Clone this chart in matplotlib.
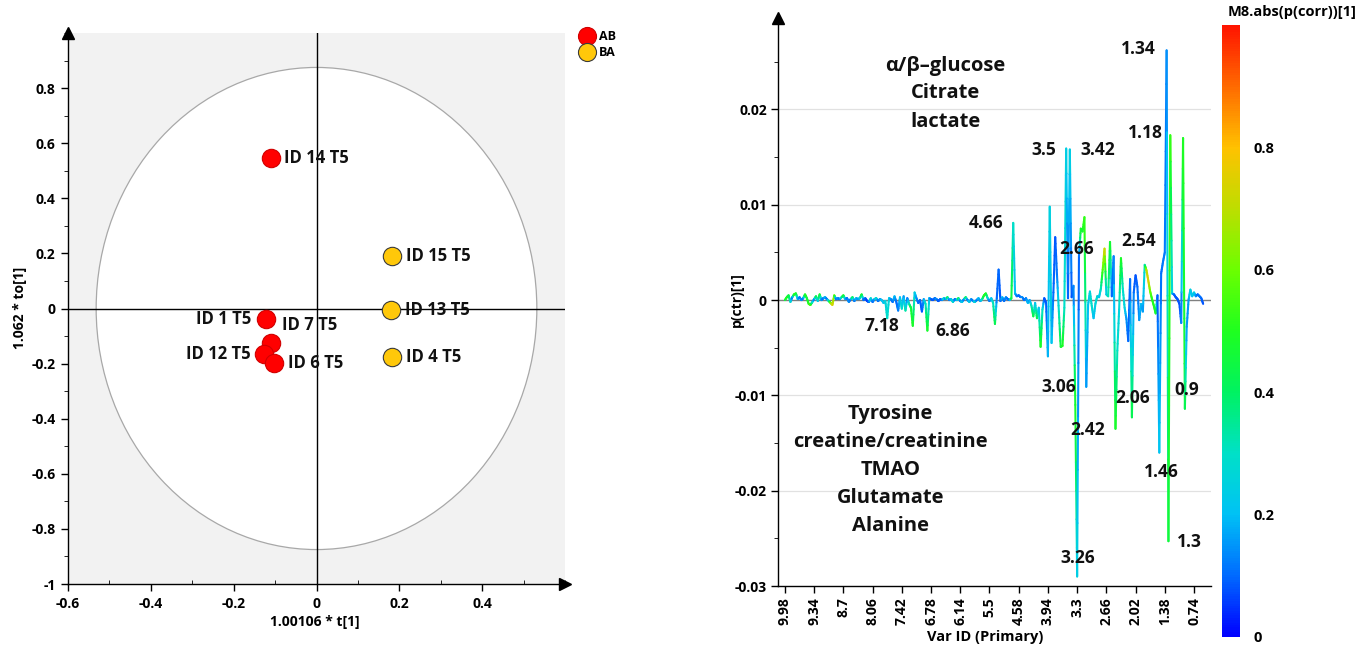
import numpy as np
import matplotlib
matplotlib.use('Agg')
import matplotlib.pyplot as plt
from matplotlib.patches import Ellipse
from matplotlib.collections import LineCollection
from matplotlib.colors import LinearSegmentedColormap, Normalize
from matplotlib.cm import ScalarMappable
from matplotlib.lines import Line2D
import matplotlib.ticker as mticker

plt.rcParams['font.family'] = ['Open Sans', 'DejaVu Sans']
plt.rcParams['font.weight'] = 'bold'
plt.rcParams['axes.unicode_minus'] = False

# ---------------- data: score plot ----------------
score_ids = ['ID 14 T5', 'ID 1 T5', 'ID 7 T5', 'ID 12 T5', 'ID 6 T5',
             'ID 15 T5', 'ID 13 T5', 'ID 4 T5']
score_group = ['AB', 'AB', 'AB', 'AB', 'AB', 'BA', 'BA', 'BA']
score_t = [-0.111, -0.121, -0.111, -0.126, -0.103, 0.183, 0.181, 0.183]
score_to = [0.545, -0.039, -0.124, -0.166, -0.199, 0.190, -0.004, -0.177]
groups = ['AB', 'BA']
x_ticks_left = [-0.6, -0.4, -0.2, 0, 0.2, 0.4]
x_ticklabels_left = ['-0.6', '-0.4', '-0.2', '0', '0.2', '0.4']
y_ticks_left = [-1, -0.8, -0.6, -0.4, -0.2, 0, 0.2, 0.4, 0.6, 0.8]
y_ticklabels_left = ['-1', '-0.8', '-0.6', '-0.4', '-0.2', '0', '0.2', '0.4', '0.6', '0.8']
ellipse_radius_t = 0.532
ellipse_radius_to = 0.875

# ---------------- data: loading line plot ----------------
p_ctr = [
    0.0000, 0.0003, 0.0005, -0.0002, 0.0003, 0.0006, 0.0007, 0.0001, 0.0003, 0.0000,
    0.0002, 0.0006, 0.0002, -0.0004, -0.0005, -0.0002, 0.0001, 0.0004, -0.0001, 0.0006,
    0.0000, 0.0002, 0.0003, 0.0001, -0.0001, -0.0003, -0.0005, 0.0005, 0.0001, 0.0002,
    0.0001, 0.0003, 0.0005, 0.0001, 0.0002, -0.0002, 0.0001, 0.0003, -0.0001, 0.0002,
    0.0001, 0.0002, 0.0006, 0.0000, 0.0002, -0.0001, -0.0002, 0.0002, -0.0002, 0.0001,
    0.0002, -0.0001, 0.0001, 0.0000, -0.0003, -0.0001, -0.0019, 0.0002, 0.0001, -0.0002,
    0.0004, -0.0002, -0.0011, 0.0003, -0.0009, 0.0004, -0.0011, 0.0002, -0.0004, -0.0008,
    -0.0027, 0.0008, 0.0002, -0.0003, 0.0000, -0.0012, 0.0001, -0.0004, -0.0032, 0.0002,
    0.0001, 0.0000, 0.0002, 0.0001, -0.0001, 0.0001, 0.0000, 0.0002, 0.0001, 0.0003,
    0.0000, 0.0001, -0.0002, 0.0001, 0.0000, 0.0002, -0.0001, -0.0002, 0.0001, 0.0003,
    0.0000, -0.0002, 0.0001, -0.0001, -0.0002, 0.0000, 0.0002, -0.0001, 0.0001, 0.0005,
    0.0007, 0.0002, -0.0001, 0.0002, -0.0003, -0.0025, 0.0002, 0.0032, -0.0001, 0.0003,
    -0.0001, 0.0003, 0.0001, 0.0000, 0.0002, 0.0081, 0.0007, 0.0004, 0.0005, 0.0003,
    0.0003, 0.0000, 0.0002, -0.0003, 0.0000, -0.0006, -0.0017, -0.0003, -0.0019, -0.0008,
    -0.0049, -0.0010, 0.0002, -0.0003, -0.0059, 0.0098, -0.0045, 0.0008, 0.0066, 0.0025,
    -0.0012, -0.0049, -0.0048, -0.0008, 0.0159, 0.0002, 0.0158, 0.0003, 0.0015, -0.0110,
    -0.0290, 0.0046, 0.0075, 0.0072, 0.0087, -0.0091, -0.0005, 0.0009, -0.0006, -0.0019,
    -0.0004, 0.0004, 0.0003, 0.0012, 0.0032, 0.0054, 0.0006, 0.0004, 0.0061, 0.0004,
    0.0046, -0.0135, -0.0053, -0.0010, 0.0044, 0.0012, -0.0008, -0.0020, -0.0043, 0.0022,
    -0.0123, 0.0008, 0.0026, 0.0014, -0.0021, -0.0004, -0.0012, 0.0037, 0.0031, 0.0020,
    0.0009, 0.0001, -0.0006, -0.0014, 0.0005, -0.0160, 0.0028, 0.0040, 0.0050, 0.0262,
    -0.0253, 0.0173, 0.0007, 0.0006, 0.0003, 0.0001, -0.0004, -0.0024, 0.0170, -0.0114,
    -0.0028, 0.0000, 0.0011, 0.0004, 0.0008, 0.0004, 0.0006, 0.0004, 0.0002, -0.0004,
]
p_corr = [
    0.45, 0.50, 0.45, 0.30, 0.10, 0.50, 0.50, 0.20, 0.10, 0.15,
    0.10, 0.50, 0.45, 0.50, 0.55, 0.30, 0.10, 0.45, 0.20, 0.50,
    0.15, 0.10, 0.20, 0.10, 0.30, 0.60, 0.75, 0.60, 0.10, 0.15,
    0.10, 0.30, 0.50, 0.20, 0.10, 0.15, 0.10, 0.45, 0.10, 0.20,
    0.15, 0.20, 0.50, 0.10, 0.10, 0.05, 0.10, 0.30, 0.10, 0.15,
    0.30, 0.10, 0.15, 0.20, 0.20, 0.25, 0.30, 0.25, 0.15, 0.10,
    0.20, 0.10, 0.12, 0.20, 0.30, 0.15, 0.35, 0.10, 0.30, 0.45,
    0.50, 0.25, 0.15, 0.10, 0.10, 0.08, 0.15, 0.30, 0.50, 0.20,
    0.10, 0.08, 0.10, 0.15, 0.08, 0.10, 0.10, 0.30, 0.10, 0.45,
    0.10, 0.20, 0.30, 0.10, 0.15, 0.45, 0.10, 0.25, 0.10, 0.45,
    0.10, 0.25, 0.15, 0.10, 0.30, 0.10, 0.20, 0.15, 0.30, 0.50,
    0.50, 0.30, 0.10, 0.20, 0.30, 0.45, 0.10, 0.10, 0.08, 0.20,
    0.10, 0.15, 0.10, 0.12, 0.45, 0.30, 0.20, 0.12, 0.10, 0.10,
    0.15, 0.10, 0.12, 0.20, 0.15, 0.30, 0.45, 0.20, 0.45, 0.20,
    0.50, 0.30, 0.08, 0.08, 0.18, 0.25, 0.22, 0.10, 0.08, 0.12,
    0.30, 0.45, 0.50, 0.30, 0.25, 0.08, 0.25, 0.08, 0.10, 0.50,
    0.25, 0.08, 0.50, 0.45, 0.55, 0.15, 0.20, 0.25, 0.30, 0.20,
    0.25, 0.30, 0.20, 0.30, 0.55, 0.75, 0.20, 0.30, 0.50, 0.10,
    0.10, 0.50, 0.30, 0.25, 0.50, 0.30, 0.25, 0.15, 0.10, 0.08,
    0.45, 0.10, 0.08, 0.10, 0.15, 0.20, 0.15, 0.30, 0.70, 0.75,
    0.60, 0.50, 0.50, 0.50, 0.08, 0.22, 0.10, 0.12, 0.12, 0.12,
    0.45, 0.55, 0.25, 0.10, 0.08, 0.08, 0.08, 0.10, 0.50, 0.45,
    0.15, 0.15, 0.25, 0.20, 0.25, 0.15, 0.10, 0.12, 0.10, 0.08,
]
var_tick_labels = ['9.98', '9.34', '8.7', '8.06', '7.42', '6.78', '6.14', '5.5',
                   '4.58', '3.94', '3.3', '2.66', '2.02', '1.38', '0.74']
y_ticks_right = [-0.03, -0.02, -0.01, 0, 0.01, 0.02]
y_ticklabels_right = ['-0.03', '-0.02', '-0.01', '0', '0.01', '0.02']
peak_labels = ['1.34', '1.18', '3.5', '3.42', '4.66', '2.66', '2.54', '7.18',
               '6.86', '3.06', '2.06', '0.9', '2.42', '1.46', '1.3', '3.26']
metab_up = ['\u03b1/\u03b2\u2013glucose', 'Citrate', 'lactate']
metab_down = ['Tyrosine', 'creatine/creatinine', 'TMAO', 'Glutamate', 'Alanine']
cbar_ticks = [0, 0.2, 0.4, 0.6, 0.8]
cbar_ticklabels = ['0', '0.2', '0.4', '0.6', '0.8']

# ---------------- layout / styles ----------------
W, H = 1364, 647
group_face = {'AB': '#ff0000', 'BA': '#ffc80a'}
group_edge = {'AB': '#d00000', 'BA': '#3a3a3a'}
label_offsets = [(10, 0, 'left'), (-11, 0, 'right'), (8, 13, 'left'), (-10, 0, 'right'),
                 (10, 0, 'left'), (10, 0, 'left'), (10, 0, 'left'), (10, 0, 'left')]
peak_label_pos = [(193.6, 0.0263), (197.1, 0.0175), (141.7, 0.0158), (171.2, 0.0157),
                  (109.9, 0.0081), (159.9, 0.0054), (193.6, 0.00615), (53.3, -0.0027),
                  (92.0, -0.0032), (149.7, -0.0091), (190.5, -0.0103), (220.0, -0.0094),
                  (165.8, -0.0136), (205.9, -0.0180), (221.7, -0.0254), (160.3, -0.0271)]
up_pos_x, up_pos_y = 88, [0.0246, 0.0217, 0.0187]
down_pos_x, down_pos_y = 57.8, [-0.0119, -0.0149, -0.0178, -0.0208, -0.0237]

cmap = LinearSegmentedColormap.from_list('simca', [
    (0.0, (0.0, 0.0, 1.0)), (0.1, (0.0, 0.42, 1.0)), (0.2, (0.0, 0.76, 0.96)),
    (0.3, (0.0, 0.88, 0.78)), (0.4, (0.0, 0.95, 0.38)), (0.5, (0.12, 1.0, 0.12)),
    (0.6, (0.42, 1.0, 0.0)), (0.7, (0.74, 0.87, 0.0)), (0.8, (1.0, 0.76, 0.0)),
    (0.9, (1.0, 0.42, 0.0)), (1.0, (1.0, 0.08, 0.0))])
norm = Normalize(0, 1)

fig = plt.figure(figsize=(W / 100, H / 100), dpi=100)

def fax(l, t, r, b):
    return fig.add_axes([l / W, 1 - b / H, (r - l) / W, (b - t) / H])

# ================= left: score plot =================
axL = fax(68, 33, 565, 584)
axL.set_xlim(-0.6, 0.6)
axL.set_ylim(-1, 1.0)
axL.set_facecolor('#f2f2f2')
axL.add_patch(Ellipse((0, 0), 2 * ellipse_radius_t, 2 * ellipse_radius_to,
                      facecolor='white', edgecolor='#a8a8a8', lw=0.9, zorder=1))
axL.axhline(0, color='black', lw=1.0, zorder=2)
axL.axvline(0, color='black', lw=1.0, zorder=2)
for s in ['top', 'right']:
    axL.spines[s].set_visible(False)
for s in ['left', 'bottom']:
    axL.spines[s].set_color('black')
    axL.spines[s].set_linewidth(1.0)
axL.plot(1, 0, marker='>', color='black', ms=8, transform=axL.transAxes, clip_on=False)
axL.plot(0, 1, marker='^', color='black', ms=8, transform=axL.transAxes, clip_on=False)
axL.set_xticks(x_ticks_left)
axL.set_xticklabels(x_ticklabels_left)
axL.set_yticks(y_ticks_left)
axL.set_yticklabels(y_ticklabels_left)
axL.xaxis.set_minor_locator(mticker.MultipleLocator(0.1))
axL.yaxis.set_minor_locator(mticker.MultipleLocator(0.1))
axL.tick_params(which='major', length=5, width=1, labelsize=10, pad=4)
axL.tick_params(axis='x', which='minor', length=3, direction='in')
axL.tick_params(axis='y', which='minor', length=3, direction='out')
for lab in axL.get_xticklabels() + axL.get_yticklabels():
    lab.set_fontweight('bold')

for i, name in enumerate(score_ids):
    g = score_group[i]
    axL.scatter(score_t[i], score_to[i], s=175, c=group_face[g],
                edgecolors=group_edge[g], linewidths=0.8, zorder=4)
    dx, dy, ha = label_offsets[i]
    axL.annotate(name, (score_t[i], score_to[i]), xytext=(dx, dy),
                 textcoords='offset points', ha=ha, va='center',
                 fontsize=12, fontweight='bold', color='#111111', zorder=5)

fig.text(315 / W, 1 - 622 / H, '1.00106 * t[1]', ha='center', va='center',
         fontsize=10, fontweight='bold')
fig.text(20 / W, 1 - 308 / H, '1.062 * to[1]', ha='center', va='center',
         rotation=90, fontsize=10, fontweight='bold')

handles = [Line2D([], [], marker='o', ls='', ms=13, markerfacecolor=group_face[g],
                  markeredgecolor=group_edge[g], markeredgewidth=0.8) for g in groups]
fig.legend(handles, groups, loc='upper left', bbox_to_anchor=(568 / W, 1 - 24 / H),
           frameon=False, handletextpad=0.0, labelspacing=0.25, borderpad=0,
           prop={'size': 9, 'weight': 'bold'})

# ================= right: loadings line plot =================
axR = fax(778, 18, 1211, 586)
n = len(p_ctr)
xpos = np.arange(n)
axR.set_xlim(-3.8, 233.3)
axR.set_ylim(-0.03, 0.0296)
for yv in [0.02, 0.01, -0.01, -0.02]:
    axR.axhline(yv, color='#e1e1e1', lw=0.9, zorder=1)
axR.axhline(0, color='#808080', lw=1.0, zorder=1)

yv = np.asarray(p_ctr)
cv = np.asarray(p_corr)
segs, cols = [], []
sub = 6
for i in range(n - 1):
    xs = np.linspace(xpos[i], xpos[i + 1], sub + 1)
    ys = np.linspace(yv[i], yv[i + 1], sub + 1)
    cs = np.linspace(cv[i], cv[i + 1], sub + 1)
    for k in range(sub):
        segs.append([(xs[k], ys[k]), (xs[k + 1], ys[k + 1])])
        cols.append(0.5 * (cs[k] + cs[k + 1]))
lc = LineCollection(segs, cmap=cmap, norm=norm, linewidths=1.5, zorder=3,
                    capstyle='round', joinstyle='round')
lc.set_array(np.asarray(cols))
axR.add_collection(lc)

for s in ['top', 'right']:
    axR.spines[s].set_visible(False)
for s in ['left', 'bottom']:
    axR.spines[s].set_color('black')
    axR.spines[s].set_linewidth(1.0)
axR.plot(0, 1, marker='^', color='black', ms=8, transform=axR.transAxes, clip_on=False)

axR.set_xticks(np.arange(len(var_tick_labels)) * 16)
axR.set_xticklabels(var_tick_labels, rotation=90)
axR.set_yticks(y_ticks_right)
axR.set_yticklabels(y_ticklabels_right)
axR.yaxis.set_minor_locator(mticker.MultipleLocator(0.005))
axR.tick_params(which='major', length=5, width=1, labelsize=10, pad=3)
axR.tick_params(axis='y', which='minor', length=3)
for lab in axR.get_xticklabels() + axR.get_yticklabels():
    lab.set_fontweight('bold')

for lab, (px, py) in zip(peak_labels, peak_label_pos):
    axR.text(px, py, lab, ha='center', va='center', fontsize=12.5,
             fontweight='bold', color='#111111', zorder=6)
for lab, py in zip(metab_up, up_pos_y):
    axR.text(up_pos_x, py, lab, ha='center', va='center', fontsize=14.5,
             fontweight='bold', color='#111111')
for lab, py in zip(metab_down, down_pos_y):
    axR.text(down_pos_x, py, lab, ha='center', va='center', fontsize=14.5,
             fontweight='bold', color='#111111')

fig.text(985 / W, 1 - 637 / H, 'Var ID (Primary)', ha='center', va='center',
         fontsize=10.5, fontweight='bold')
fig.text(737 / W, 1 - 300 / H, 'p(ctr)[1]', ha='center', va='center',
         rotation=90, fontsize=10, fontweight='bold')

# ================= colorbar =================
cax = fax(1222, 25, 1240, 637)
cb = fig.colorbar(ScalarMappable(norm=norm, cmap=cmap), cax=cax, ticks=cbar_ticks)
cb.set_ticklabels(cbar_ticklabels)
cb.outline.set_visible(False)
cax.tick_params(length=0, pad=10, labelsize=10.5)
for lab in cax.get_yticklabels():
    lab.set_fontweight('bold')
fig.text(1292 / W, 1 - 12 / H, 'M8.abs(p(corr))[1]', ha='center', va='center',
         fontsize=10.5, fontweight='bold')

fig.savefig('out.png', dpi=100, facecolor='white')
